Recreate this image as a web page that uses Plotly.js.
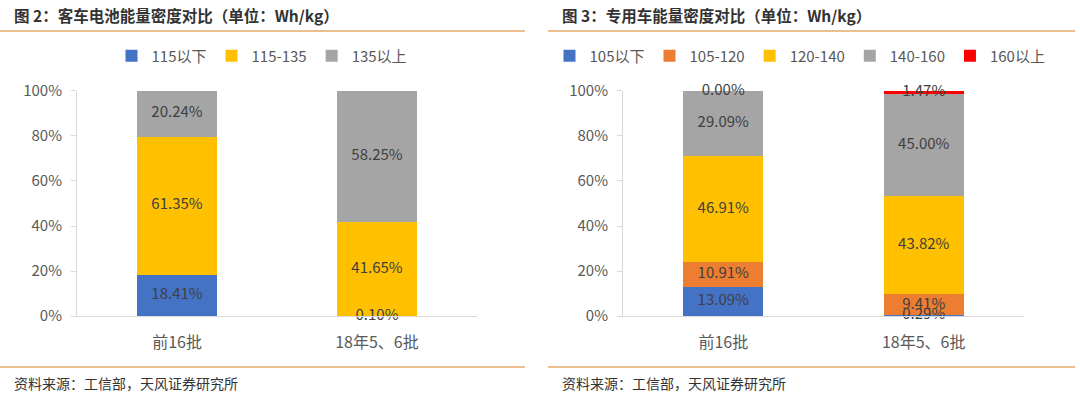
<!DOCTYPE html>
<html><head><meta charset="utf-8">
<script src="https://cdn.plot.ly/plotly-3.0.1.min.js"></script>
<style>html,body{margin:0;padding:0;background:#fff}#c{width:1080px;height:398px}</style>
</head><body><div id="c"></div>
<script>
const categories = ['前16批', '18年5、6批'];
// Figure 2 (bus)
const busNames = ['115以下', '115-135', '135以上'];
const bus115Below = [18.41, 0.10];
const bus115to135 = [61.35, 41.65];
const bus135Above = [20.24, 58.25];
// Figure 3 (special vehicles)
const spNames = ['105以下', '105-120', '120-140', '140-160', '160以上'];
const sp105Below = [13.09, 0.29];
const sp105to120 = [10.91, 9.41];
const sp120to140 = [46.91, 43.82];
const sp140to160 = [29.09, 45.00];
const sp160Above = [0.00, 1.47];
const tickVals = [0, 20, 40, 60, 80, 100];
const tickText = ['0%', '20%', '40%', '60%', '80%', '100%'];

const busColors = ['#4472C4', '#FFC000', '#A5A5A5'];
const spColors = ['#4472C4', '#ED7D31', '#FFC000', '#A5A5A5', '#FF0000'];
const font = 'Noto Sans CJK SC, Noto Sans, sans-serif';

const traces = [];
function addStack(seriesList, names, colors, xa, ya, legend) {
  const cum = categories.map(() => 0);
  seriesList.forEach((vals, i) => {
    traces.push({type: 'bar', x: categories, y: vals, name: names[i], xaxis: xa, yaxis: ya,
      marker: {color: colors[i]}, legend: legend, hoverinfo: 'none'});
    const mids = vals.map((v, j) => cum[j] + v / 2);
    traces.push({type: 'scatter', mode: 'text', x: categories, y: mids, xaxis: xa, yaxis: ya,
      text: vals.map(v => v.toFixed(2) + '%'), textposition: 'middle center',
      textfont: {family: font, size: 15, color: '#404040'}, showlegend: false, hoverinfo: 'none', cliponaxis: false});
    vals.forEach((v, j) => cum[j] += v);
  });
}
addStack([bus115Below, bus115to135, bus135Above], busNames, busColors, 'x', 'y', 'legend');
addStack([sp105Below, sp105to120, sp120to140, sp140to160, sp160Above], spNames, spColors, 'x2', 'y2', 'legend2');

const yDom = [0.206, 0.7714];
const xAxisBase = {type: 'category', showline: true, linecolor: '#d9d9d9', linewidth: 1, ticks: '',
  tickfont: {family: font, size: 16, color: '#595959'}, ticklabelstandoff: 12, fixedrange: true, showgrid: false};
const yAxisBase = {range: [0, 100], tickvals: tickVals, ticktext: tickText, showgrid: false, zeroline: false,
  showline: true, linecolor: '#d9d9d9', ticks: 'outside', ticklen: 5, tickcolor: '#d9d9d9', ticklabelstandoff: 6,
  tickfont: {family: font, size: 15, color: '#595959'}, domain: yDom, fixedrange: true};

const lineColor = '#E3A868';
const legendBase = {orientation: 'h', xanchor: 'center', y: (398-56)/398, yanchor: 'middle',
  font: {family: font, size: 15, color: '#595959'}, itemwidth: 30, traceorder: 'normal', tracegroupgap: 0};
const layout = {
  width: 1080, height: 398, margin: {l: 0, r: 0, t: 0, b: 0},
  paper_bgcolor: '#fff', plot_bgcolor: '#fff', barmode: 'stack', bargap: 0.6,
  font: {family: font},
  xaxis: Object.assign({}, xAxisBase, {domain: [77/1080, 477/1080], anchor: 'y'}),
  yaxis: Object.assign({}, yAxisBase, {anchor: 'x'}),
  xaxis2: Object.assign({}, xAxisBase, {domain: [623/1080, 1024/1080], anchor: 'y2'}),
  yaxis2: Object.assign({}, yAxisBase, {anchor: 'x2'}),
  legend: Object.assign({}, legendBase, {x: 262/1080}),
  legend2: Object.assign({}, legendBase, {x: 800/1080}),
  shapes: [
    {type: 'line', xref: 'paper', yref: 'paper', x0: 0, x1: 525/1080, y0: (398-31)/398, y1: (398-31)/398, line: {color: lineColor, width: 1.5}},
    {type: 'line', xref: 'paper', yref: 'paper', x0: 548/1080, x1: 1075/1080, y0: (398-31)/398, y1: (398-31)/398, line: {color: lineColor, width: 1.5}},
    {type: 'line', xref: 'paper', yref: 'paper', x0: 0, x1: 525/1080, y0: (398-367)/398, y1: (398-367)/398, line: {color: lineColor, width: 1.5}},
    {type: 'line', xref: 'paper', yref: 'paper', x0: 548/1080, x1: 1075/1080, y0: (398-367)/398, y1: (398-367)/398, line: {color: lineColor, width: 1.5}}
  ],
  annotations: [
    {xref: 'paper', yref: 'paper', x: 12/1080, y: (398-15)/398, xanchor: 'left', yanchor: 'middle', showarrow: false,
      text: '<b>图 2：客车电池能量密度对比（单位：Wh/kg）</b>', font: {family: font, size: 15.5, color: '#333333'}},
    {xref: 'paper', yref: 'paper', x: 560/1080, y: (398-15)/398, xanchor: 'left', yanchor: 'middle', showarrow: false,
      text: '<b>图 3：专用车能量密度对比（单位：Wh/kg）</b>', font: {family: font, size: 15.5, color: '#333333'}},
    {xref: 'paper', yref: 'paper', x: 12/1080, y: (398-383)/398, xanchor: 'left', yanchor: 'middle', showarrow: false,
      text: '资料来源：工信部，天风证券研究所', font: {family: font, size: 14, color: '#333333'}},
    {xref: 'paper', yref: 'paper', x: 560/1080, y: (398-383)/398, xanchor: 'left', yanchor: 'middle', showarrow: false,
      text: '资料来源：工信部，天风证券研究所', font: {family: font, size: 14, color: '#333333'}}
  ]
};
Plotly.newPlot('c', traces, layout, {displayModeBar: false, staticPlot: true});
</script></body></html>
